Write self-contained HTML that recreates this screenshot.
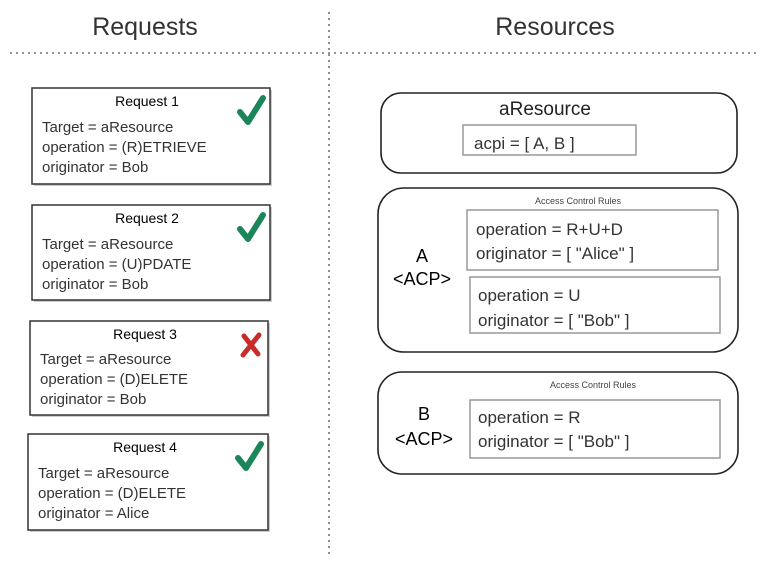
<!DOCTYPE html>
<html><head><meta charset="utf-8"><style>
html,body{margin:0;padding:0;background:#fff;}
svg{display:block;font-family:"Liberation Sans",sans-serif;}
.t{fill:#333;font-size:15px;}
.r{fill:#333;font-size:17px;}
.h{fill:#000;font-size:14px;}
</style></head><body>
<svg width="769" height="570" viewBox="0 0 769 570" xmlns="http://www.w3.org/2000/svg">
<text x="145" y="35" text-anchor="middle" font-size="25" fill="#333">Requests</text>
<text x="555" y="35" text-anchor="middle" font-size="25" fill="#333">Resources</text>
<line x1="10" y1="53" x2="760" y2="53" stroke="#555" stroke-width="1.3" stroke-dasharray="2,4"/>
<line x1="329" y1="12" x2="329" y2="556" stroke="#555" stroke-width="1.3" stroke-dasharray="2,4"/>

<g stroke="#333" stroke-width="1.5" fill="#fff">
<rect x="34" y="90" width="238" height="96" fill="#ccc" stroke="none"/>
<rect x="32" y="88" width="238" height="96"/>
<rect x="34" y="207" width="238" height="95" fill="#ccc" stroke="none"/>
<rect x="32" y="205" width="238" height="95"/>
<rect x="32" y="323" width="238" height="94" fill="#ccc" stroke="none"/>
<rect x="30" y="321" width="238" height="94"/>
<rect x="30" y="436" width="240" height="96" fill="#ccc" stroke="none"/>
<rect x="28" y="434" width="240" height="96"/>
</g>
<text class="h" x="147" y="106" text-anchor="middle">Request 1</text>
<text class="t" x="42" y="132">Target = aResource</text>
<text class="t" x="42" y="152">operation = (R)ETRIEVE</text>
<text class="t" x="42" y="172">originator = Bob</text>
<text class="h" x="147" y="223" text-anchor="middle">Request 2</text>
<text class="t" x="42" y="249">Target = aResource</text>
<text class="t" x="42" y="269">operation = (U)PDATE</text>
<text class="t" x="42" y="289">originator = Bob</text>
<text class="h" x="145" y="339" text-anchor="middle">Request 3</text>
<text class="t" x="40" y="364">Target = aResource</text>
<text class="t" x="40" y="384">operation = (D)ELETE</text>
<text class="t" x="40" y="404">originator = Bob</text>
<text class="h" x="145" y="452" text-anchor="middle">Request 4</text>
<text class="t" x="38" y="478">Target = aResource</text>
<text class="t" x="38" y="498">operation = (D)ELETE</text>
<text class="t" x="38" y="518">originator = Alice</text>

<g stroke="#1a8659" stroke-width="6" fill="none" stroke-linecap="round" stroke-linejoin="round">
<path d="M240 112 L248 122 L263 98"/>
<path d="M240 229 L248 239 L263 215"/>
<path d="M238 458 L246 468 L261 444"/>
</g>
<g stroke="#c92a2a" stroke-width="5" stroke-linecap="round">
<line x1="244" y1="336" x2="258" y2="354"/><line x1="259" y1="335" x2="243" y2="355"/>
</g>

<g stroke="#222" stroke-width="1.6" fill="none">
<rect x="381" y="93" width="356" height="80" rx="20"/>
<rect x="378" y="188" width="360" height="164" rx="26"/>
<rect x="378" y="372" width="360" height="102" rx="24"/>
</g>
<g stroke="#999" stroke-width="1.5" fill="none">
<rect x="463" y="125" width="173" height="30"/>
<rect x="467" y="210" width="251" height="60"/>
<rect x="470" y="277" width="250" height="56"/>
<rect x="470" y="400" width="250" height="58"/>
</g>
<text x="545" y="115" text-anchor="middle" font-size="19" fill="#222">aResource</text>
<text class="r" x="474" y="149">acpi = [ A, B ]</text>
<text x="578" y="204" text-anchor="middle" font-size="9" fill="#444">Access Control Rules</text>
<text class="r" x="476" y="235">operation = R+U+D</text>
<text class="r" x="476" y="259">originator = [ "Alice" ]</text>
<text class="r" x="478" y="301">operation = U</text>
<text class="r" x="478" y="326">originator = [ "Bob" ]</text>
<text x="422" y="262" text-anchor="middle" font-size="18" fill="#000">A</text>
<text x="422" y="285" text-anchor="middle" font-size="18" fill="#000">&lt;ACP&gt;</text>
<text x="593" y="388" text-anchor="middle" font-size="9" fill="#444">Access Control Rules</text>
<text class="r" x="478" y="423">operation = R</text>
<text class="r" x="478" y="447">originator = [ "Bob" ]</text>
<text x="424" y="420" text-anchor="middle" font-size="18" fill="#000">B</text>
<text x="424" y="445" text-anchor="middle" font-size="18" fill="#000">&lt;ACP&gt;</text>
</svg>
</body></html>
